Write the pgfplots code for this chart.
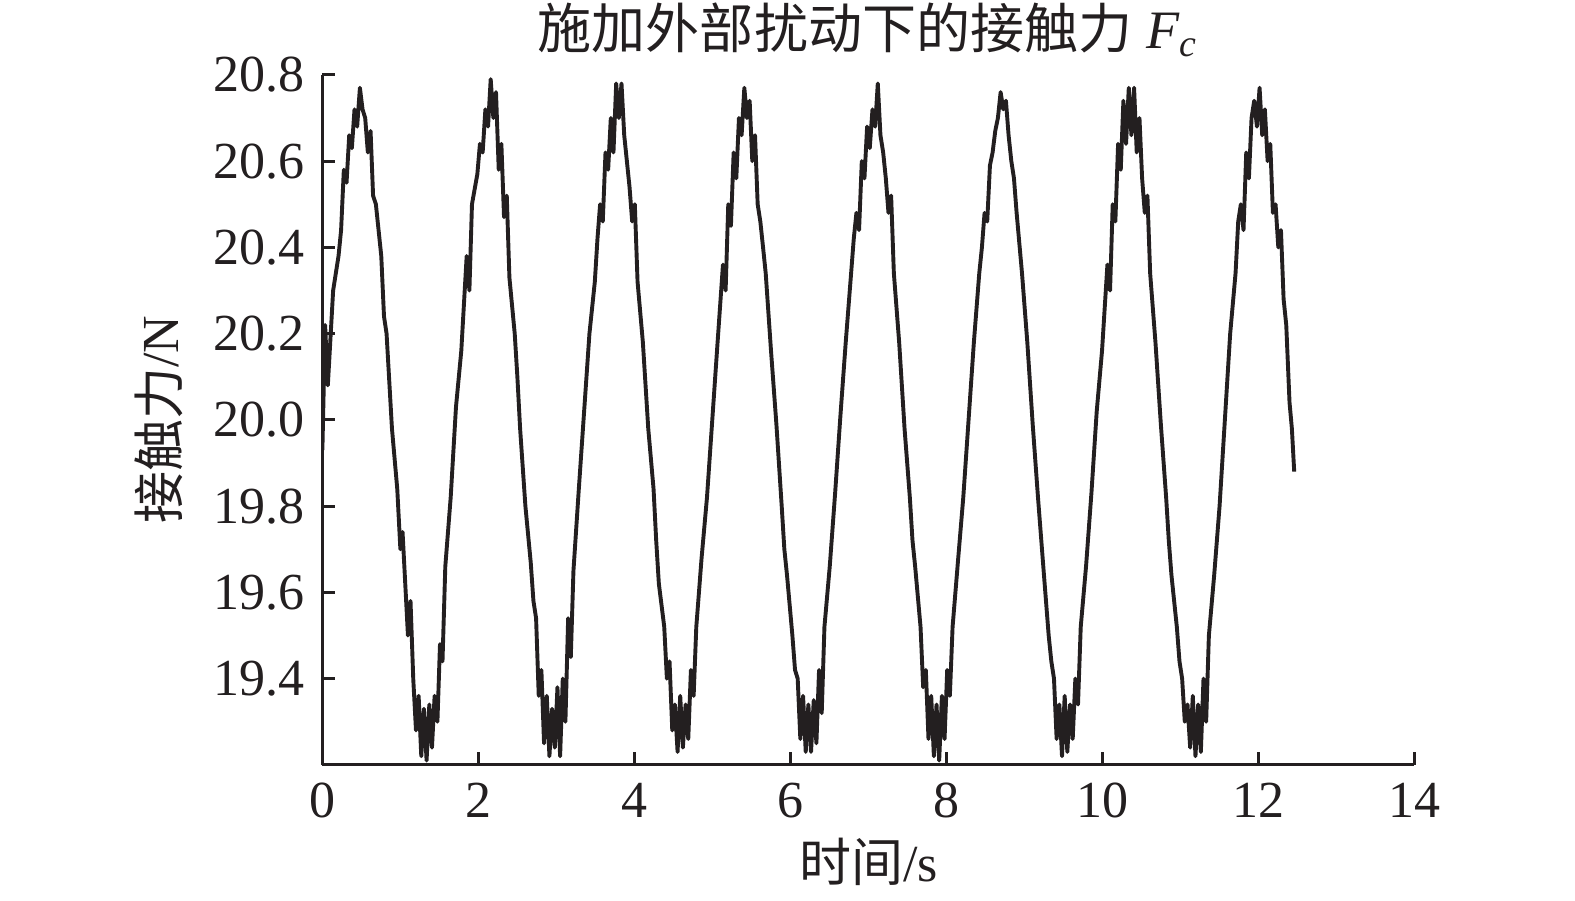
\documentclass[border=0pt]{standalone}
\usepackage{fontspec}
\setmainfont{Liberation Serif}
\newfontfamily\cjk{Noto Sans CJK SC}
\usepackage{pgfplots}
\pgfplotsset{compat=1.18}
\definecolor{ink}{RGB}{35,31,32}

\pgfplotstableread{
t y
0.000 19.93
0.035 20.22
0.070 20.08
0.138 20.30
0.207 20.38
0.240 20.44
0.275 20.58
0.310 20.55
0.344 20.66
0.378 20.63
0.412 20.72
0.446 20.68
0.481 20.77
0.515 20.72
0.549 20.70
0.583 20.62
0.618 20.67
0.650 20.52
0.686 20.50
0.755 20.38
0.790 20.24
0.823 20.20
0.892 19.98
0.960 19.84
1.000 19.70
1.028 19.74
1.097 19.50
1.130 19.58
1.165 19.40
1.200 19.28
1.234 19.36
1.268 19.22
1.302 19.33
1.336 19.21
1.371 19.34
1.405 19.24
1.439 19.36
1.475 19.30
1.508 19.48
1.540 19.44
1.576 19.66
1.645 19.82
1.713 20.03
1.781 20.16
1.850 20.38
1.885 20.30
1.918 20.50
1.987 20.57
2.020 20.64
2.055 20.62
2.090 20.72
2.124 20.68
2.158 20.79
2.192 20.70
2.226 20.76
2.261 20.58
2.295 20.64
2.329 20.47
2.364 20.52
2.398 20.33
2.466 20.20
2.500 20.10
2.535 19.98
2.603 19.80
2.671 19.67
2.706 19.58
2.740 19.54
2.774 19.36
2.808 19.42
2.842 19.25
2.877 19.36
2.911 19.22
2.945 19.33
2.980 19.24
3.014 19.38
3.048 19.22
3.082 19.40
3.116 19.30
3.151 19.54
3.185 19.45
3.219 19.65
3.288 19.84
3.356 20.02
3.424 20.20
3.493 20.32
3.527 20.42
3.561 20.50
3.595 20.46
3.630 20.62
3.664 20.58
3.698 20.70
3.732 20.62
3.767 20.78
3.801 20.70
3.835 20.78
3.870 20.66
3.904 20.60
3.938 20.54
3.972 20.46
4.006 20.50
4.041 20.32
4.109 20.18
4.178 19.98
4.246 19.84
4.280 19.72
4.314 19.62
4.383 19.52
4.417 19.40
4.451 19.44
4.486 19.28
4.520 19.34
4.554 19.23
4.588 19.36
4.622 19.24
4.657 19.34
4.691 19.26
4.725 19.42
4.760 19.36
4.794 19.52
4.862 19.68
4.931 19.82
4.999 20.00
5.067 20.18
5.136 20.36
5.170 20.30
5.204 20.50
5.238 20.45
5.273 20.62
5.307 20.56
5.341 20.70
5.375 20.66
5.410 20.77
5.444 20.70
5.478 20.74
5.512 20.60
5.547 20.66
5.581 20.50
5.615 20.46
5.650 20.40
5.684 20.34
5.752 20.16
5.821 19.99
5.889 19.80
5.923 19.70
5.957 19.64
6.026 19.50
6.060 19.42
6.094 19.40
6.128 19.26
6.163 19.36
6.197 19.23
6.231 19.34
6.265 19.23
6.300 19.35
6.334 19.25
6.368 19.42
6.402 19.32
6.437 19.52
6.505 19.66
6.574 19.83
6.642 20.01
6.710 20.18
6.779 20.34
6.813 20.42
6.847 20.48
6.881 20.44
6.916 20.60
6.950 20.56
6.984 20.68
7.018 20.63
7.053 20.72
7.087 20.68
7.121 20.78
7.155 20.66
7.190 20.62
7.224 20.56
7.258 20.48
7.292 20.52
7.327 20.34
7.395 20.18
7.464 19.98
7.532 19.82
7.566 19.72
7.600 19.66
7.669 19.52
7.703 19.38
7.737 19.42
7.771 19.26
7.806 19.36
7.840 19.22
7.874 19.34
7.908 19.21
7.943 19.36
7.977 19.26
8.011 19.42
8.045 19.36
8.080 19.52
8.148 19.67
8.217 19.82
8.285 20.00
8.353 20.18
8.422 20.34
8.456 20.40
8.490 20.48
8.524 20.46
8.559 20.59
8.593 20.62
8.627 20.67
8.661 20.70
8.696 20.76
8.730 20.72
8.764 20.74
8.798 20.66
8.833 20.60
8.867 20.56
8.901 20.48
8.970 20.34
9.038 20.18
9.107 19.99
9.175 19.82
9.209 19.74
9.243 19.66
9.312 19.50
9.346 19.44
9.380 19.40
9.414 19.26
9.449 19.34
9.483 19.22
9.517 19.36
9.551 19.23
9.586 19.34
9.620 19.26
9.654 19.40
9.688 19.34
9.723 19.52
9.791 19.66
9.860 19.83
9.928 20.02
9.996 20.16
10.065 20.36
10.099 20.30
10.133 20.50
10.167 20.46
10.202 20.64
10.236 20.58
10.270 20.74
10.304 20.64
10.339 20.77
10.373 20.66
10.407 20.77
10.441 20.62
10.476 20.70
10.510 20.56
10.544 20.48
10.578 20.52
10.613 20.34
10.681 20.18
10.750 19.99
10.818 19.82
10.852 19.72
10.886 19.64
10.955 19.52
10.989 19.44
11.023 19.40
11.057 19.30
11.092 19.34
11.126 19.24
11.160 19.36
11.194 19.22
11.229 19.34
11.263 19.23
11.297 19.40
11.331 19.30
11.366 19.50
11.434 19.64
11.503 19.80
11.571 20.00
11.639 20.20
11.708 20.34
11.742 20.46
11.776 20.50
11.810 20.44
11.845 20.62
11.879 20.56
11.913 20.70
11.947 20.74
11.982 20.68
12.016 20.77
12.050 20.66
12.084 20.72
12.119 20.60
12.153 20.64
12.187 20.48
12.221 20.50
12.256 20.40
12.290 20.44
12.324 20.28
12.358 20.22
12.400 20.04
12.430 19.98
12.460 19.88
}\force

\begin{document}
\begin{tikzpicture}
  \useasboundingbox (-62.0pt,-26.0pt) rectangle (240.9pt,147.1pt);
  \begin{axis}[
    at={(0,0)}, anchor=south west,
    scale only axis,
    width=210.0pt, height=132.7pt,
    xmin=0, xmax=14, ymin=19.2, ymax=20.8,
    xtick={0,2,...,14},
    ytick={19.4,19.6,...,20.81},
    axis lines=left,
    axis line style={-, line width=0.6pt, ink},
    tick style={line width=0.6pt, ink},
    tick align=inside,
    major tick length=2.4pt,
    tick label style={font=\fontsize{10}{12}\selectfont, ink},
    /pgf/number format/assume math mode=true,
    yticklabel style={/pgf/number format/.cd, fixed, fixed zerofill, precision=1},
    xlabel={{\cjk 时间}/s},
    ylabel={{\cjk 接触力}/N},
    label style={font=\fontsize{10}{12}\selectfont, ink},
    xlabel style={yshift=3pt},
    ylabel style={yshift=-1pt},
    title={{\cjk 施加外部扰动下的接触力} \textit{F}\textsubscript{\textit{c}}},
    title style={font=\fontsize{10.4}{12}\selectfont, ink, yshift=-6pt},
  ]
  \addplot[ink, line width=0.75pt, line join=round] table[x=t, y=y] {\force};
  \end{axis}
\end{tikzpicture}
\end{document}
